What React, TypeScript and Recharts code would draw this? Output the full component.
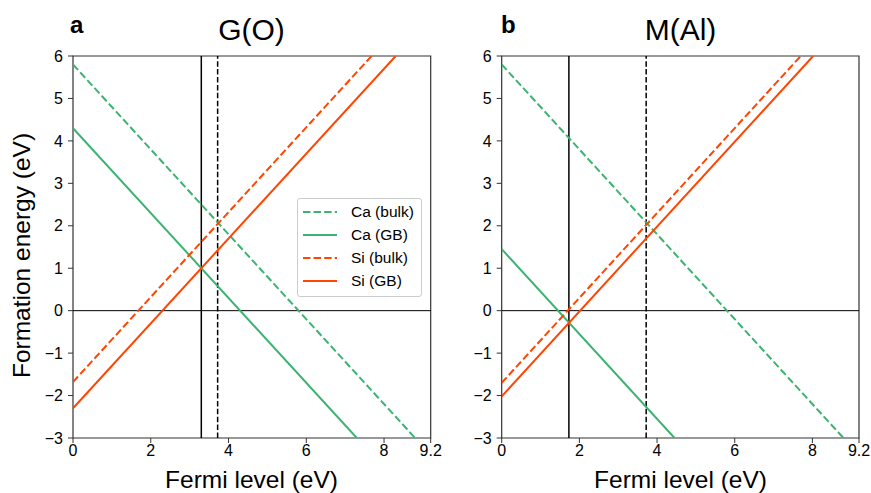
import React from "react";
import { LineChart, Line, XAxis, YAxis, ReferenceLine, ReferenceArea } from "recharts";

// tick values
const xTicks = [0, 2, 4, 6, 8, 9.2];
const yTicks = [-3, -2, -1, 0, 1, 2, 3, 4, 5, 6];

// panel a: G(O) — end points (Fermi level, formation energy)
const caBulkA = [{ x: 0, y: 5.8 }, { x: 8.8, y: -3 }];
const caGbA = [{ x: 0, y: 4.3 }, { x: 7.3, y: -3 }];
const siBulkA = [{ x: 0, y: -1.68 }, { x: 7.68, y: 6 }];
const siGbA = [{ x: 0, y: -2.3 }, { x: 8.3, y: 6 }];
const vbmA = 3.3;
const cbmA = 3.72;

// panel b: M(Al)
const caBulkB = [{ x: 0, y: 5.8 }, { x: 8.8, y: -3 }];
const caGbB = [{ x: 0, y: 1.45 }, { x: 4.45, y: -3 }];
const siBulkB = [{ x: 0, y: -1.7 }, { x: 7.7, y: 6 }];
const siGbB = [{ x: 0, y: -2.02 }, { x: 8.02, y: 6 }];
const vbmB = 1.73;
const cbmB = 3.72;

const GREEN = "#3cb371";
const ORANGE = "#ff4500";
const DASH = "7.4 3.2";
const FONT = "'Liberation Sans', Arial, Helvetica, sans-serif";

const legendItems = [
  { name: "Ca (bulk)", color: GREEN, dash: DASH },
  { name: "Ca (GB)", color: GREEN, dash: undefined },
  { name: "Si (bulk)", color: ORANGE, dash: DASH },
  { name: "Si (GB)", color: ORANGE, dash: undefined },
];

const fmt = (v: number) => (v < 0 ? `\u2212${-v}` : `${v}`);

const LegendBox = () => (
  <div
    style={{
      position: "absolute",
      left: 297,
      top: 198,
      width: 125,
      height: 99,
      border: "1px solid #cccccc",
      borderRadius: 3,
      background: "white",
      boxSizing: "border-box",
      fontFamily: FONT,
    }}
  >
    <svg width={123} height={97} style={{ display: "block" }}>
      {legendItems.map((it, i) => (
        <g key={it.name}>
          <line
            x1={5}
            x2={39}
            y1={13 + i * 23}
            y2={13 + i * 23}
            stroke={it.color}
            strokeWidth={2}
            strokeDasharray={it.dash}
          />
          <text x={53} y={13 + i * 23} dy="0.35em" fontSize={15.5} fill="#000">
            {it.name}
          </text>
        </g>
      ))}
    </svg>
  </div>
);

interface PanelProps {
  caBulk: { x: number; y: number }[];
  caGb: { x: number; y: number }[];
  siBulk: { x: number; y: number }[];
  siGb: { x: number; y: number }[];
  vbm: number;
  cbm: number;
  width: number;
  left: number;
  right: number;
}

const Panel: React.FC<PanelProps> = ({ caBulk, caGb, siBulk, siGb, vbm, cbm, width, left, right }) => (
  <LineChart
    width={width}
    height={493}
    margin={{ top: 56, right, bottom: 25, left }}
    style={{ fontFamily: FONT }}
  >
    <XAxis
      dataKey="x"
      type="number"
      domain={[0, 9.2]}
      ticks={xTicks}
      allowDataOverflow
      height={30}
      tickSize={5}
      tickMargin={2}
      tick={{ fontSize: 16, fill: "#000" }}
      axisLine={false}
      tickLine={{ stroke: "#333" }}
      interval={0}
    />
    <YAxis
      type="number"
      domain={[-3, 6]}
      ticks={yTicks}
      allowDataOverflow
      width={40}
      tickSize={5}
      tickMargin={5}
      tick={{ fontSize: 16, fill: "#000" }}
      tickFormatter={fmt}
      axisLine={false}
      tickLine={{ stroke: "#333" }}
      interval={0}
    />
    <ReferenceLine y={0} stroke="#000" strokeWidth={1} />
    <ReferenceLine x={vbm} stroke="#000" strokeWidth={1.5} />
    <ReferenceLine x={cbm} stroke="#000" strokeWidth={1.5} strokeDasharray="5.5 2.4" />
    <Line data={caBulk} dataKey="y" name="Ca (bulk)" stroke={GREEN} strokeWidth={2} strokeDasharray={DASH} dot={false} isAnimationActive={false} />
    <Line data={caGb} dataKey="y" name="Ca (GB)" stroke={GREEN} strokeWidth={2} dot={false} isAnimationActive={false} />
    <Line data={siBulk} dataKey="y" name="Si (bulk)" stroke={ORANGE} strokeWidth={2} strokeDasharray={DASH} dot={false} isAnimationActive={false} />
    <Line data={siGb} dataKey="y" name="Si (GB)" stroke={ORANGE} strokeWidth={2} dot={false} isAnimationActive={false} />
    <ReferenceArea x1={0} x2={9.2} y1={-3} y2={6} fill="none" fillOpacity={0} stroke="#333" strokeWidth={1.2} ifOverflow="visible" />
  </LineChart>
);

export default function App() {
  return (
    <div style={{ position: "absolute", left: 0, top: 0, width: 871, height: 493, background: "white", fontFamily: FONT }}>
      <div style={{ position: "absolute", left: 0, top: 0 }}>
        <Panel caBulk={caBulkA} caGb={caGbA} siBulk={siBulkA} siGb={siGbA} vbm={vbmA} cbm={cbmA} width={460} left={33} right={29.3} />
      </div>
      <div style={{ position: "absolute", left: 440, top: 0 }}>
        <Panel caBulk={caBulkB} caGb={caGbB} siBulk={siBulkB} siGb={siGbB} vbm={vbmB} cbm={cbmB} width={431} left={21.7} right={12} />
      </div>
      <LegendBox />
      <svg width={871} height={493} style={{ position: "absolute", left: 0, top: 0, pointerEvents: "none", fontFamily: FONT }}>
        <text x={70} y={33} fontSize={24} fontWeight="bold" fill="#000">a</text>
        <text x={251.5} y={40} fontSize={30} textAnchor="middle" fill="#000">G(O)</text>
        <text x={501} y={33} fontSize={24} fontWeight="bold" fill="#000">b</text>
        <text x={680.5} y={40} fontSize={30} textAnchor="middle" fill="#000">M(Al)</text>
        <text x={251.5} y={488} fontSize={24.5} textAnchor="middle" fill="#000">Fermi level (eV)</text>
        <text x={680.5} y={488} fontSize={24.5} textAnchor="middle" fill="#000">Fermi level (eV)</text>
        <text x={30} y={255.5} fontSize={24.5} textAnchor="middle" fill="#000" transform="rotate(-90 30 255.5)">
          Formation energy (eV)
        </text>
      </svg>
    </div>
  );
}
